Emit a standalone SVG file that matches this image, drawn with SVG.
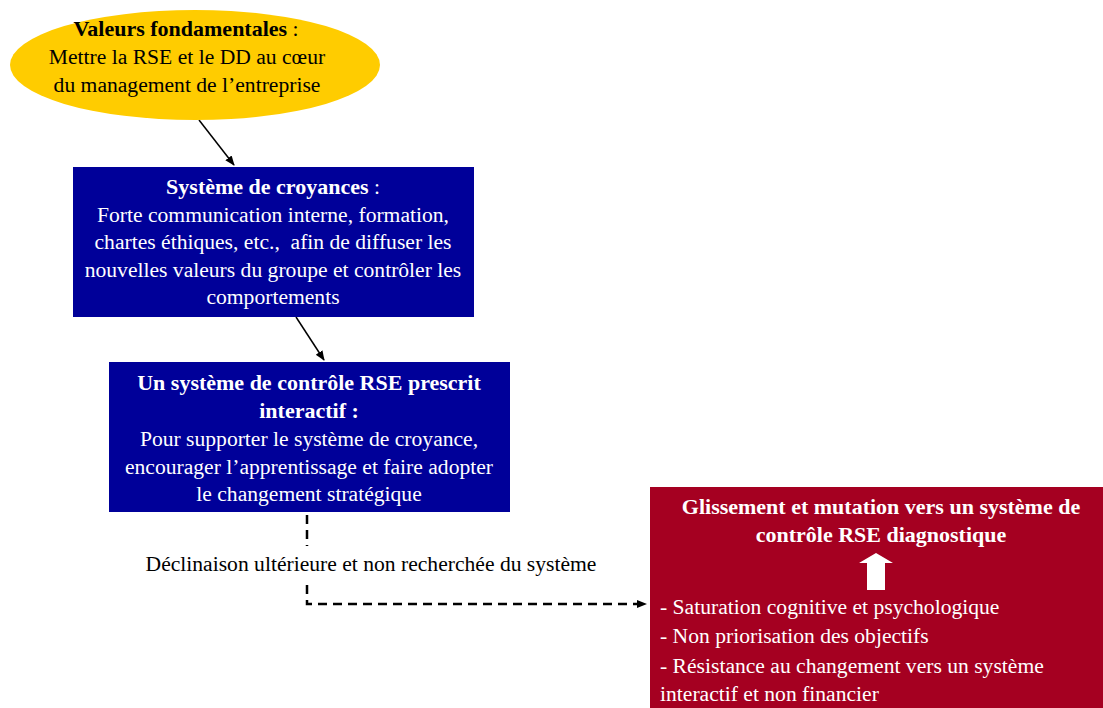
<svg xmlns="http://www.w3.org/2000/svg" width="1103" height="708" viewBox="0 0 1103 708">
<defs>
<style>
text{font-family:"Liberation Serif","Times New Roman",serif;font-size:21.6px;}
.c{text-anchor:middle;}
.b{font-weight:bold;font-size:22px;}
.w{fill:#ffffff;}
.k{fill:#000000;}
.ln{stroke:#000;stroke-width:1.5;fill:none;}
.dash{stroke:#000;stroke-width:2.5;fill:none;stroke-dasharray:9,6;}
</style>
<marker id="ah" markerWidth="10" markerHeight="10" refX="9" refY="5" orient="auto" markerUnits="userSpaceOnUse">
<path d="M0,1 L10,5 L0,9 z" fill="#000"/>
</marker>
</defs>
<rect width="1103" height="708" fill="#ffffff"/>
<g id="connectors">
<line class="ln" x1="199" y1="120" x2="234" y2="165" marker-end="url(#ah)"/>
<line class="ln" x1="296" y1="317" x2="324" y2="360" marker-end="url(#ah)"/>
<path class="dash" d="M307,515 V546"/>
<path class="dash" d="M307,585 V604 H646" marker-end="url(#ah)"/>
<text x="371" y="571" class="c k">Déclinaison ultérieure et non recherchée du système</text>
</g>
<g id="valeurs">
<ellipse cx="195" cy="65" rx="185" ry="55" fill="#FFCC00"/>
<text x="186" y="36" class="c k"><tspan class="b">Valeurs fondamentales</tspan> :</text>
<text x="187" y="64" class="c k">Mettre la RSE et le DD au cœur</text>
<text x="187" y="92" class="c k">du management de l’entreprise</text>
</g>
<g id="croyances">
<rect x="73" y="167" width="401" height="150" fill="#000099"/>
<text x="273" y="194" class="c w"><tspan class="b">Système de croyances</tspan> :</text>
<text x="273" y="222" class="c w">Forte communication interne, formation,</text>
<text x="273" y="249" class="c w" xml:space="preserve">chartes éthiques, etc.,  afin de diffuser les</text>
<text x="273" y="277" class="c w">nouvelles valeurs du groupe et contrôler les</text>
<text x="273" y="304" class="c w">comportements</text>
</g>
<g id="interactif">
<rect x="109" y="362" width="401" height="150" fill="#000099"/>
<text x="309" y="390" class="c w b">Un système de contrôle RSE prescrit</text>
<text x="309" y="418" class="c w b">interactif :</text>
<text x="309" y="446" class="c w">Pour supporter le système de croyance,</text>
<text x="309" y="474" class="c w">encourager l’apprentissage et faire adopter</text>
<text x="309" y="501" class="c w">le changement stratégique</text>
</g>
<g id="diagnostique">
<rect x="650" y="487" width="453" height="221" fill="#A50021"/>
<text x="881" y="514" class="c w b">Glissement et mutation vers un système de</text>
<text x="881" y="542" class="c w b">contrôle RSE diagnostique</text>
<path d="M876,553 L893,563 L885,563 L885,590 L867,590 L867,563 L859,563 z" fill="#ffffff"/>
<text x="660" y="614" class="w">- Saturation cognitive et psychologique</text>
<text x="660" y="643" class="w">- Non priorisation des objectifs</text>
<text x="660" y="673" class="w">- Résistance au changement vers un système</text>
<text x="660" y="701" class="w">interactif et non financier</text>
</g>
</svg>
